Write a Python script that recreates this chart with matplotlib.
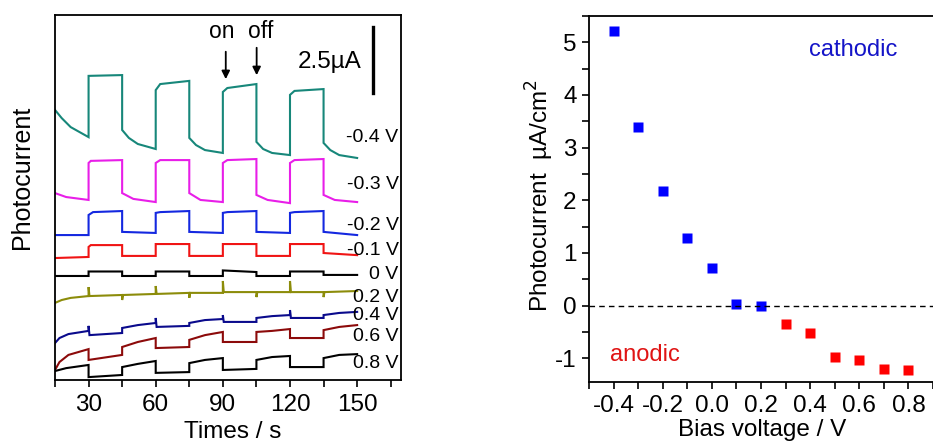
import matplotlib
matplotlib.use("Agg")
import matplotlib.pyplot as plt
from matplotlib.ticker import MultipleLocator

plt.rcParams['font.family'] = ['Liberation Sans', 'DejaVu Sans']

# ---- left panel: transient photocurrent traces (uA, stacked with offsets) ----
teal_t = [15, 18, 22, 30, 30, 45, 45, 48, 52, 60, 60, 62, 75, 75, 78, 82, 90, 90, 92, 105,
          105, 108, 112, 120, 120, 122, 135, 135, 138, 142, 150]
teal_i = [10.23, 9.92, 9.58, 9.20, 11.52, 11.55, 9.47, 9.17, 8.94, 8.75, 10.98, 11.21, 11.33,
          9.17, 8.90, 8.71, 8.60, 10.91, 11.06, 11.21, 9.02, 8.75, 8.60, 8.52, 10.80, 10.95,
          11.02, 8.98, 8.71, 8.52, 8.41]

mag_t = [15, 20, 30, 30, 31, 45, 45, 50, 60, 60, 62, 75, 75, 80, 90, 90, 92, 105, 105, 110,
         120, 120, 122, 135, 135, 140, 150]
mag_i = [7.08, 6.93, 6.82, 8.22, 8.30, 8.33, 7.08, 6.86, 6.74, 8.22, 8.33, 8.33, 7.08, 6.82,
         6.74, 8.22, 8.33, 8.37, 7.01, 6.82, 6.70, 8.22, 8.33, 8.37, 7.01, 6.82, 6.74]

blue_t = [15, 30, 30, 32, 45, 45, 60, 60, 62, 75, 75, 90, 90, 92, 105, 105, 120, 120, 122,
          135, 135, 150]
blue_i = [5.49, 5.49, 6.25, 6.36, 6.40, 5.61, 5.57, 6.33, 6.36, 6.40, 5.61, 5.57, 6.33, 6.36,
          6.40, 5.61, 5.57, 6.33, 6.36, 6.40, 5.61, 5.49]

red_t = [15, 30, 30, 31, 45, 45, 60, 60, 75, 75, 90, 90, 105, 105, 120, 120, 135, 135, 150]
red_i = [4.62, 4.66, 5.04, 5.11, 5.11, 4.70, 4.70, 5.15, 5.15, 4.70, 4.70, 5.15, 5.15, 4.70,
         4.70, 5.15, 5.15, 4.81, 4.73]

zero_t = [15, 30, 30, 45, 45, 60, 60, 75, 75, 90, 90, 105, 105, 120, 120, 135, 135, 150]
zero_i = [3.94, 3.94, 4.11, 4.11, 3.94, 3.94, 4.11, 4.11, 3.94, 3.94, 4.15, 4.09, 3.94, 3.94,
          4.11, 4.11, 3.98, 3.98]

olive_t = [15, 18, 22, 30, 30, 30.4, 45, 45, 45.4, 60, 60, 60.4, 75, 75, 75.4, 90, 90, 90.4,
           105, 105, 105.4, 120, 120, 120.4, 135, 135, 135.4, 150]
olive_i = [2.92, 3.03, 3.11, 3.18, 3.52, 3.18, 3.22, 3.03, 3.22, 3.26, 3.56, 3.26, 3.30, 3.11,
           3.30, 3.30, 3.75, 3.33, 3.33, 3.14, 3.33, 3.33, 3.75, 3.33, 3.33, 3.14, 3.33, 3.37]

navy_t = [15, 17, 21, 30, 30, 30.4, 45, 45, 52, 60, 60, 60.4, 75, 75, 82, 90, 90, 90.4, 105,
          105, 112, 120, 120, 120.4, 135, 135, 142, 150]
navy_i = [1.40, 1.59, 1.74, 1.86, 2.05, 1.70, 1.78, 1.97, 2.08, 2.16, 2.35, 2.01, 2.05, 2.16,
          2.27, 2.31, 2.46, 2.20, 2.20, 2.35, 2.42, 2.46, 2.65, 2.35, 2.35, 2.46, 2.54, 2.58]

dred_t = [15, 17, 21, 30, 30, 45, 45, 52, 60, 60, 75, 75, 82, 90, 90, 105, 105, 112, 120, 120,
          135, 135, 142, 150]
dred_i = [0.38, 0.68, 0.95, 1.17, 0.76, 0.95, 1.25, 1.44, 1.59, 1.21, 1.25, 1.52, 1.70, 1.82,
          1.44, 1.44, 1.82, 1.86, 1.93, 1.59, 1.59, 1.89, 2.01, 2.08]

blk_t = [15, 20, 30, 30, 45, 45, 52, 60, 60, 75, 75, 82, 90, 90, 105, 105, 112, 120, 120, 135,
         135, 142, 150]
blk_i = [0.34, 0.45, 0.57, 0.11, 0.19, 0.49, 0.61, 0.72, 0.27, 0.30, 0.64, 0.76, 0.83, 0.38,
         0.42, 0.76, 0.87, 0.91, 0.49, 0.49, 0.83, 0.95, 0.98]

trace_labels = ['-0.4 V', '-0.3 V', '-0.2 V', '-0.1 V', '0 V', '0.2 V', '0.4 V', '0.6 V', '0.8 V']
label_y = [9.20, 7.39, 5.87, 4.92, 3.98, 3.14, 2.46, 1.63, 0.61]

# ---- right panel: photocurrent vs bias ----
bias = [-0.4, -0.3, -0.2, -0.1, 0.0, 0.1, 0.2, 0.3, 0.4, 0.5, 0.6, 0.7, 0.8]
photo = [5.22, 3.40, 2.18, 1.28, 0.715, 0.03, 0.0, -0.34, -0.52, -0.98, -1.04, -1.20, -1.23]

fig = plt.figure(figsize=(9.33, 4.46), dpi=100)
W, H = 933, 446

# left axes
ax1 = fig.add_axes([55 / W, 1 - 380 / H, 346 / W, 365 / H])
traces = [(teal_t, teal_i, '#17877a'), (mag_t, mag_i, '#e81ee8'), (blue_t, blue_i, '#1428e0'),
          (red_t, red_i, '#f01414'), (zero_t, zero_i, 'black'), (olive_t, olive_i, '#8c8c0a'),
          (navy_t, navy_i, '#0a0a8c'), (dred_t, dred_i, '#8c0a0a'), (blk_t, blk_i, 'black')]
for t, i, c in traces:
    ax1.plot(t, i, color=c, lw=1.5, solid_joinstyle='miter')

for lab, y in zip(trace_labels, label_y):
    ax1.text(168.5, y, lab, ha='right', va='center', fontsize=14)

ax1.set_xlim(15, 169.6)
ax1.set_ylim(0, 365 / 26.4)
ax1.set_yticks([])
ax1.xaxis.set_major_locator(MultipleLocator(30))
ax1.xaxis.set_minor_locator(MultipleLocator(15))
ax1.set_xticks([30, 60, 90, 120, 150])
ax1.tick_params(axis='x', which='both', direction='out', length=5, width=1.2,
                labelsize=17.5, pad=5)
for s in ax1.spines.values():
    s.set_linewidth(1.3)

# on / off arrows and scale bar
ax1.text(89.5, 13.2, 'on', ha='center', va='center', fontsize=16.5)
ax1.text(107, 13.2, 'off', ha='center', va='center', fontsize=16.5)
ax1.annotate('', xy=(91.3, 11.29), xytext=(91.3, 12.54),
             arrowprops=dict(arrowstyle='-|>', color='black', lw=1.3, mutation_scale=12))
ax1.annotate('', xy=(105.1, 11.44), xytext=(105.1, 12.69),
             arrowprops=dict(arrowstyle='-|>', color='black', lw=1.3, mutation_scale=12))
ax1.plot([156.9, 156.9], [10.87, 13.37], color='black', lw=2.4)
ax1.text(152, 12.05, '2.5µA', ha='right', va='center', fontsize=17.5)

fig.text(22 / W, 1 - 177 / H, 'Photocurrent', rotation=90, ha='center', va='center',
         fontsize=18)
fig.text(233 / W, 1 - 432 / H, 'Times / s', ha='center', va='center', fontsize=17.5)

# right axes
ax2 = fig.add_axes([589 / W, 1 - 382 / H, 1 - 589 / W, 366 / H])
cath = [(b, p) for b, p in zip(bias, photo) if b <= 0.2]
anod = [(b, p) for b, p in zip(bias, photo) if b > 0.2]
ax2.plot([c[0] for c in cath], [c[1] for c in cath], 's', color='#0000ff', ms=7.5, mec='none')
ax2.plot([a[0] for a in anod], [a[1] for a in anod], 's', color='#ff0000', ms=7.5, mec='none')
ax2.axhline(0, color='black', lw=1, ls=(0, (4, 3)))
ax2.set_xlim(-0.5, 0.9)
ax2.set_ylim(-1.45, 5.5)
ax2.xaxis.set_major_locator(MultipleLocator(0.2))
ax2.xaxis.set_minor_locator(MultipleLocator(0.1))
ax2.yaxis.set_major_locator(MultipleLocator(1))
ax2.yaxis.set_minor_locator(MultipleLocator(0.5))
ax2.set_xticks([-0.4, -0.2, 0.0, 0.2, 0.4, 0.6, 0.8])
ax2.set_xticklabels(['-0.4', '-0.2', '0.0', '0.2', '0.4', '0.6', '0.8'])
ax2.set_yticks([-1, 0, 1, 2, 3, 4, 5])
ax2.set_yticklabels(['-1', '0', '1', '2', '3', '4', '5'])
ax2.tick_params(which='both', direction='out', length=5, width=1.2, labelsize=17.5, pad=4)
ax2.spines['right'].set_visible(False)
for s in ax2.spines.values():
    s.set_linewidth(1.3)
fig.text(853 / W, 1 - 50 / H, 'cathodic', color='#1414c8', fontsize=17, ha='center',
         va='center')
fig.text(645 / W, 1 - 355 / H, 'anodic', color='#e01414', fontsize=17, ha='center',
         va='center')
fig.text(540 / W, 1 - 196 / H, 'Photocurrent  µA/cm$^2$', rotation=90, ha='center',
         va='center', fontsize=17.5)
fig.text(762 / W, 1 - 430 / H, 'Bias voltage / V', ha='center', va='center', fontsize=17.5)

fig.savefig('out.png', dpi=100)
